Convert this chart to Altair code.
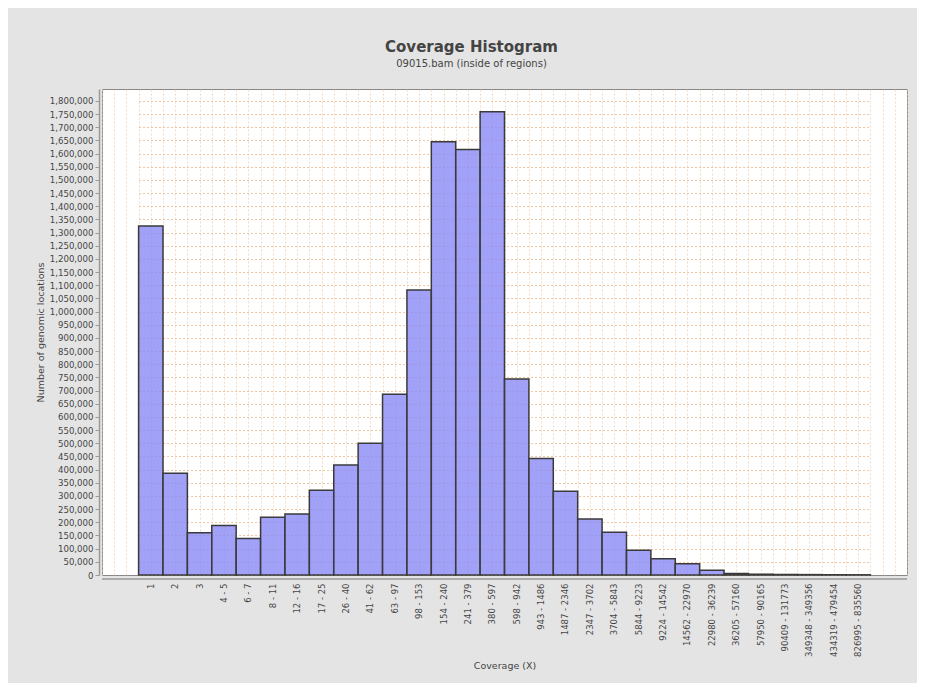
import altair as alt
import pandas as pd

# Bin labels (coverage ranges) and counts
bins = ["1", "2", "3", "4 - 5", "6 - 7", "8 - 11", "12 - 16", "17 - 25", "26 - 40",
        "41 - 62", "63 - 97", "98 - 153", "154 - 240", "241 - 379", "380 - 597",
        "598 - 942", "943 - 1486", "1487 - 2346", "2347 - 3702", "3704 - 5843",
        "5844 - 9223", "9224 - 14542", "14562 - 22970", "22980 - 36239",
        "36205 - 57160", "57950 - 90165", "90409 - 131773", "349348 - 349356",
        "434319 - 479454", "826995 - 835560"]
counts = [1325000, 386000, 160000, 188000, 139000, 219000, 232000, 322000, 418000,
          500000, 686000, 1082000, 1645000, 1615000, 1759000,
          744000, 442000, 318000, 213000, 162000,
          94000, 62000, 43000, 18000,
          6000, 3000, 2000, 1500,
          1000, 800]
y_ticks = list(range(0, 1800001, 50000))

df = pd.DataFrame({"bin": bins, "count": counts})

FONT = "DejaVu Sans"
GRID = "#f0c6a2"
TXT = "#444444"
AXIS = "#9a9a9a"

W, H = 805, 486
n = len(bins)
n_half = 2 * (n + 3)
step = W / (n + 3)          # category margin of 1.5 bands on each side
band_range = [1.5 * step, W - 1.5 * step]

vgrid = alt.Chart(df).transform_window(i="row_number()").mark_point(opacity=0).encode(
    x=alt.X("i:Q",
            scale=alt.Scale(domain=[0, n_half], nice=False, zero=False),
            axis=alt.Axis(orient="top", values=list(range(n_half + 1)), grid=True,
                          labels=False, ticks=False, domain=False, title=None,
                          gridColor=GRID, gridDash=[2, 2], gridOpacity=0.65, gridWidth=1))
)

bars = alt.Chart(df).mark_bar(fill="#8a8af6", fillOpacity=0.8, stroke="#3a3a3a",
                              strokeWidth=1.5).encode(
    x=alt.X("bin:N", sort=bins,
            scale=alt.Scale(type="band", paddingInner=0, paddingOuter=0, range=band_range),
            axis=alt.Axis(title="Coverage (X)", labelAngle=270, ticks=False, grid=False,
                          domain=False, offset=4, labelPadding=4,
                          labelFontSize=8.5, labelFont=FONT, labelColor=TXT,
                          labelOverlap=False, titleFont=FONT, titleFontSize=9.5,
                          titleFontWeight="normal", titleColor=TXT, titlePadding=4)),
    y=alt.Y("count:Q",
            scale=alt.Scale(domain=[0, 1845000], nice=False, zero=True),
            axis=alt.Axis(title="Number of genomic locations", values=y_ticks, format=",d",
                          grid=True, gridColor=GRID, gridDash=[2, 2], gridOpacity=1,
                          gridWidth=1, tickSize=4, tickColor=AXIS,
                          domainColor=AXIS, domainWidth=1.5, offset=3,
                          labelPadding=2, labelFontSize=8.6, labelFont=FONT,
                          labelColor=TXT, labelOverlap=False, titleFont=FONT,
                          titleFontSize=9.5, titleFontWeight="normal", titleColor=TXT,
                          titlePadding=4))
)

# full-width category axis line below the plot area
xline = alt.Chart(pd.DataFrame({"k": [0]})).mark_rule(color=AXIS, strokeWidth=1.5).encode(
    x=alt.value(0), x2=alt.value(W), y=alt.value(H + 4)
)

chart = alt.layer(vgrid, bars, xline).resolve_scale(x="independent").properties(
    width=W,
    height=H,
    autosize=alt.AutoSizeParams(type="none"),
    padding={"left": 94, "top": 81, "right": 10, "bottom": 108},
    title=alt.TitleParams(text="Coverage Histogram",
                          subtitle="09015.bam (inside of regions)",
                          font=FONT, fontSize=15, fontWeight="bold", color=TXT,
                          subtitleFont=FONT, subtitleFontSize=10, subtitleColor=TXT,
                          anchor="middle", dx=-33, offset=20, subtitlePadding=4),
).configure(background="#e4e4e4").configure_view(fill="white", stroke="#888888",
                                                 strokeWidth=1)

chart.save("out.html", embed_options={"renderer": "svg", "actions": False})
